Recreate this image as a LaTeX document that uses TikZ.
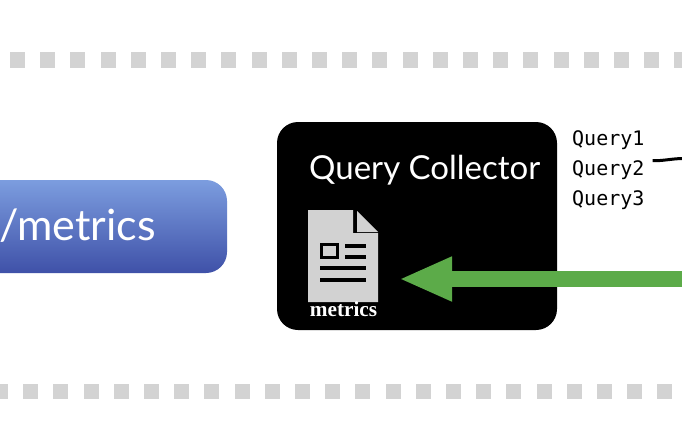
\documentclass[tikz,border=0pt]{standalone}
\usepackage{fontspec}
\setmainfont{Lato}
\newfontfamily\qmono{DejaVu Sans Mono}
\newfontfamily\mserif{Liberation Serif}
\usetikzlibrary{arrows.meta,positioning}
\definecolor{dashgray}{HTML}{D3D3D3}
\definecolor{docgray}{HTML}{D2D2D2}
\definecolor{arrowgreen}{HTML}{5CAB49}
\definecolor{bluetop}{HTML}{7C9DDF}
\definecolor{bluebot}{HTML}{3F51A8}
\tikzset{
  dashsq/.style={fill=dashgray,draw=none,minimum size=15pt,inner sep=0pt},
  bluebox/.style={rounded corners=21pt,top color=bluetop,bottom color=bluebot,draw=none},
  blackbox/.style={rounded corners=21pt,fill=black,draw=none},
  qtext/.style={font=\qmono\fontsize{20pt}{20pt}\selectfont,inner sep=0pt,anchor=base west},
  whitetext/.style={text=white,inner sep=0pt},
  docline/.style={draw=black,line width=4pt},
  greenarrow/.style={draw=arrowgreen,line width=16pt,-{Triangle[length=53pt,width=41pt]}}
}
\begin{document}
\begin{tikzpicture}[x=1pt,y=-1pt]
\useasboundingbox[fill=white] (0,0) rectangle (682,420);
% dashed bands
\foreach \i in {0,...,22} {
  \node[dashsq] (top\i) at ({17.5+30.2*\i},60) {};
}
\foreach \i in {0,...,22} {
  \node[dashsq] (bot\i) at ({0.5+30.2*\i},391.5) {};
}
% blue box
\path[bluebox] (-40,180) rectangle (227,273);
\node[whitetext,anchor=base west,font=\fontsize{43pt}{43pt}\selectfont] (mlabel) at (-1,240) {/metrics};
% black box
\path[blackbox] (277,122) rectangle (557,330);
\node[whitetext,anchor=base west,font=\fontsize{33pt}{33pt}\selectfont] (qc) at (309,179) {Query Collector};
% document
\path[fill=docgray] (308,210) -- (353,210) -- (353,233) -- (378,233) -- (378,302) -- (308,302) -- cycle;
\path[fill=docgray] (357,211) -- (378,232) -- (357,232) -- cycle;
\path[draw=black,line width=3.5pt,fill=docgray] (321.7,244.7) rectangle (337.3,257.5);
\draw[docline] (345,245.7) -- (366,245.7);
\draw[docline] (345,256.7) -- (366,256.7);
\draw[docline] (320,268) -- (366,268);
\draw[docline] (320,279.5) -- (366,279.5);
\node[whitetext,anchor=base,font=\mserif\bfseries\fontsize{21.3pt}{21.3pt}\selectfont] (mdoc) at (343.5,316.7) {metrics};
% queries
\node[qtext] (q1) at (572,145.5) {Query1};
\node[qtext] (q2) at (572,175.5) {Query2};
\node[qtext] (q3) at (572,205.5) {Query3};
% connectors
\coordinate (gs) at (682,279);
\coordinate (ge) at (399,279);
\draw[greenarrow] (gs) -- (ge);
\coordinate (ls) at (652.7,160.7);
\coordinate (le) at (683,158.5);
\draw[line width=3pt,black] (ls) .. controls (663,161) and (673,158.5) .. (le);
\end{tikzpicture}
\end{document}
